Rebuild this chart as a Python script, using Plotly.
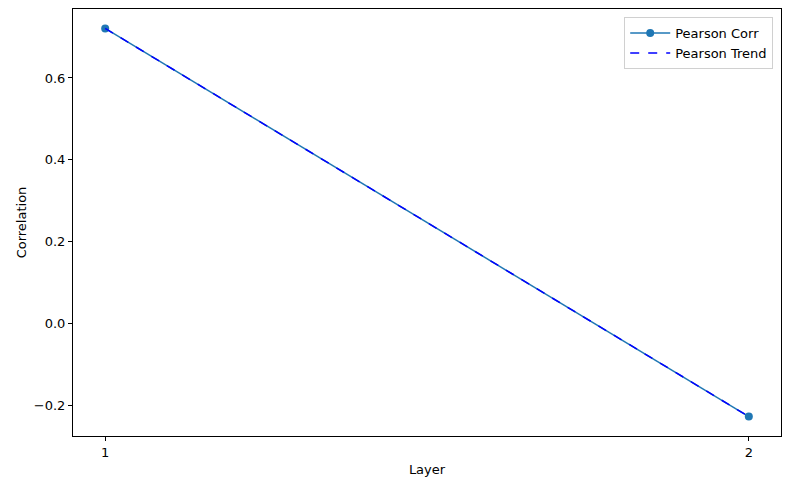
import plotly.graph_objects as go

layers = [1, 2]
pearson_corr = [0.721, -0.227]
pearson_trend = [0.721, -0.227]

y_ticks = [-0.2, 0.0, 0.2, 0.4, 0.6]
y_tick_text = ["\u22120.2", "0.0", "0.2", "0.4", "0.6"]

fig = go.Figure()
fig.add_trace(go.Scatter(
    x=layers, y=pearson_corr, mode="lines+markers", name="Pearson Corr",
    line=dict(color="#1f77b4", width=1.5),
    marker=dict(color="#1f77b4", size=8),
))
fig.add_trace(go.Scatter(
    x=layers, y=pearson_trend, mode="lines", name="Pearson Trend",
    line=dict(color="blue", width=1.5, dash="dash"),
))

axis_common = dict(
    showgrid=False, zeroline=False, showline=True, mirror=True,
    linecolor="black", linewidth=1, ticks="outside", ticklen=4,
    tickcolor="black", tickfont=dict(size=13, color="black"),
)
fig.update_xaxes(
    range=[0.95, 2.05], tickvals=layers, ticktext=["1", "2"],
    title=dict(text="Layer", font=dict(size=13, color="black"), standoff=6),
    **axis_common,
)
fig.update_yaxes(
    range=[-0.2744, 0.7684], tickvals=y_ticks, ticktext=y_tick_text,
    title=dict(text="Correlation", font=dict(size=13, color="black"), standoff=4),
    **axis_common,
)
fig.update_layout(
    width=790, height=489,
    margin=dict(l=73, r=9, t=9, b=53, autoexpand=False),
    plot_bgcolor="white", paper_bgcolor="white",
    font=dict(family="DejaVu Sans", size=13, color="black"),
    legend=dict(
        x=0.989, y=0.981, xanchor="right", yanchor="top",
        bordercolor="#d0d0d0", borderwidth=1, bgcolor="rgba(255,255,255,0.8)",
        font=dict(size=13), itemwidth=40,
    ),
    showlegend=True,
)

fig.write_html("out.html", config={"displayModeBar": False},
               post_script="document.body.style.margin='0';")
